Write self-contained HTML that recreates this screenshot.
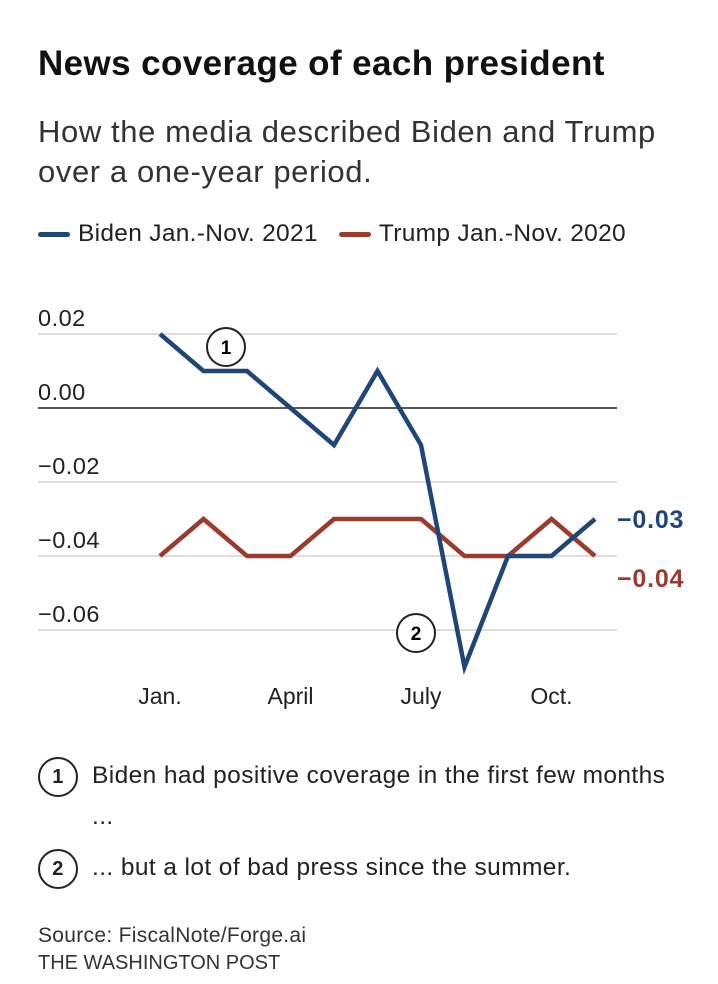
<!DOCTYPE html>
<html><head><meta charset="utf-8">
<style>
body{margin:0;background:#fff;width:718px;height:984px;overflow:hidden;font-family:"Liberation Sans",sans-serif;color:#222}
.t{position:absolute;left:38px;white-space:nowrap}
</style></head><body>
<div class="t" style="top:44px;font-size:35px;letter-spacing:0.4px;font-weight:bold;color:#111">News coverage of each president</div>
<div class="t" style="top:112px;font-size:31px;letter-spacing:0.6px;line-height:40px;color:#333">How the media described Biden and Trump<br>over a one-year period.</div>
<div class="t" style="top:220px;font-size:24.5px;letter-spacing:0.3px;color:#222">
<span><span style="display:inline-block;width:32px;height:5px;background:#1f4677;border-radius:3px;vertical-align:middle;margin-right:8px"></span>Biden Jan.-Nov. 2021</span>
<span style="margin-left:14px"><span style="display:inline-block;width:32px;height:5px;background:#9b3b2f;border-radius:3px;vertical-align:middle;margin-right:8px"></span>Trump Jan.-Nov. 2020</span>
</div>
<svg id="chart" width="718" height="984" style="position:absolute;left:0;top:0"></svg>
<div class="t" style="top:756px;font-size:24.5px;letter-spacing:0.4px;line-height:40px">
<span style="display:inline-block;width:40px;height:40px;border:2px solid #222;border-radius:50%;text-align:center;line-height:36px;font-weight:bold;font-size:20px;vertical-align:middle;margin-right:14px;box-sizing:border-box">1</span>Biden had positive coverage in the first few months<br><span style="margin-left:54px">...</span></div>
<div class="t" style="top:848px;font-size:24.5px;letter-spacing:0.4px;line-height:40px">
<span style="display:inline-block;width:40px;height:40px;border:2px solid #222;border-radius:50%;text-align:center;line-height:36px;font-weight:bold;font-size:20px;vertical-align:middle;margin-right:14px;box-sizing:border-box">2</span>... but a lot of bad press since the summer.</div>
<div class="t" style="top:924px;font-size:21px;letter-spacing:0.3px;color:#333">Source: FiscalNote/Forge.ai</div>
<div class="t" style="top:952px;font-size:20px;color:#333">THE WASHINGTON POST</div>
<script>
const months=[1,2,3,4,5,6,7,8,9,10,11];
const biden=[0.02,0.01,0.01,0.00,-0.01,0.01,-0.01,-0.07,-0.04,-0.04,-0.03];
const trump=[-0.04,-0.03,-0.04,-0.04,-0.03,-0.03,-0.03,-0.04,-0.04,-0.03,-0.04];
const yTicks=[0.02,0.00,-0.02,-0.04,-0.06];
const yTickLabels=["0.02","0.00","\u22120.02","\u22120.04","\u22120.06"];
const xTicks=[1,4,7,10];
const xTickLabels=["Jan.","April","July","Oct."];
const xs=m=>160+(m-1)*43.5;
const ys=v=>408-v*3700;
const svg=document.getElementById('chart');
const NS='http://www.w3.org/2000/svg';
function mk(t,a){const e=document.createElementNS(NS,t);for(const k in a)e.setAttribute(k,a[k]);svg.appendChild(e);return e;}
yTicks.forEach((v,i)=>{
 const l=mk('line',{x1:38,x2:617,y1:ys(v),y2:ys(v),stroke:v===0?'#222':'#bbb','stroke-width':v===0?1.5:1});
 
 
 const t=mk('text',{x:38,y:ys(v)-8,'font-size':23.5,'letter-spacing':0.5,fill:'#222','font-family':'Liberation Sans'});
 t.textContent=yTickLabels[i];
 
 
});
xTicks.forEach((m,i)=>{
 const t=mk('text',{x:xs(m),y:704,'font-size':23,fill:'#222','text-anchor':'middle','font-family':'Liberation Sans'});
 t.textContent=xTickLabels[i];
 
 
});
function line(d,c,name){
 const p=mk('polyline',{points:d.map((v,i)=>xs(months[i])+','+ys(v)).join(' '),fill:'none',stroke:c,'stroke-width':4.5,'stroke-linejoin':'miter'});
 
 
}
line(trump,'#9b3b2f','trump-line');
line(biden,'#1f4677','biden-line');
function endLabel(d,c,name,dy){
 const v=d[d.length-1];
 const t=mk('text',{x:617,y:ys(v)+dy,'font-size':25,'letter-spacing':0.8,'font-weight':'bold',fill:c,'font-family':'Liberation Sans'});
 t.textContent=(v<0?'\u2212':'')+Math.abs(v).toFixed(2);
 
 
}
endLabel(biden,'#1f4677','biden-end-label',9);
endLabel(trump,'#9b3b2f','trump-end-label',31);
function marker(x,y,n){
 const c=mk('circle',{cx:x,cy:y,r:19,fill:'#fff',stroke:'#222','stroke-width':2});
 
 
 const t=mk('text',{x:x,y:y+7,'font-size':19,'font-weight':'bold','text-anchor':'middle','font-family':'Liberation Sans'});
 t.textContent=n;
 
 
}
marker(226,347,'1');
marker(416,633,'2');
</script>
</body></html>
